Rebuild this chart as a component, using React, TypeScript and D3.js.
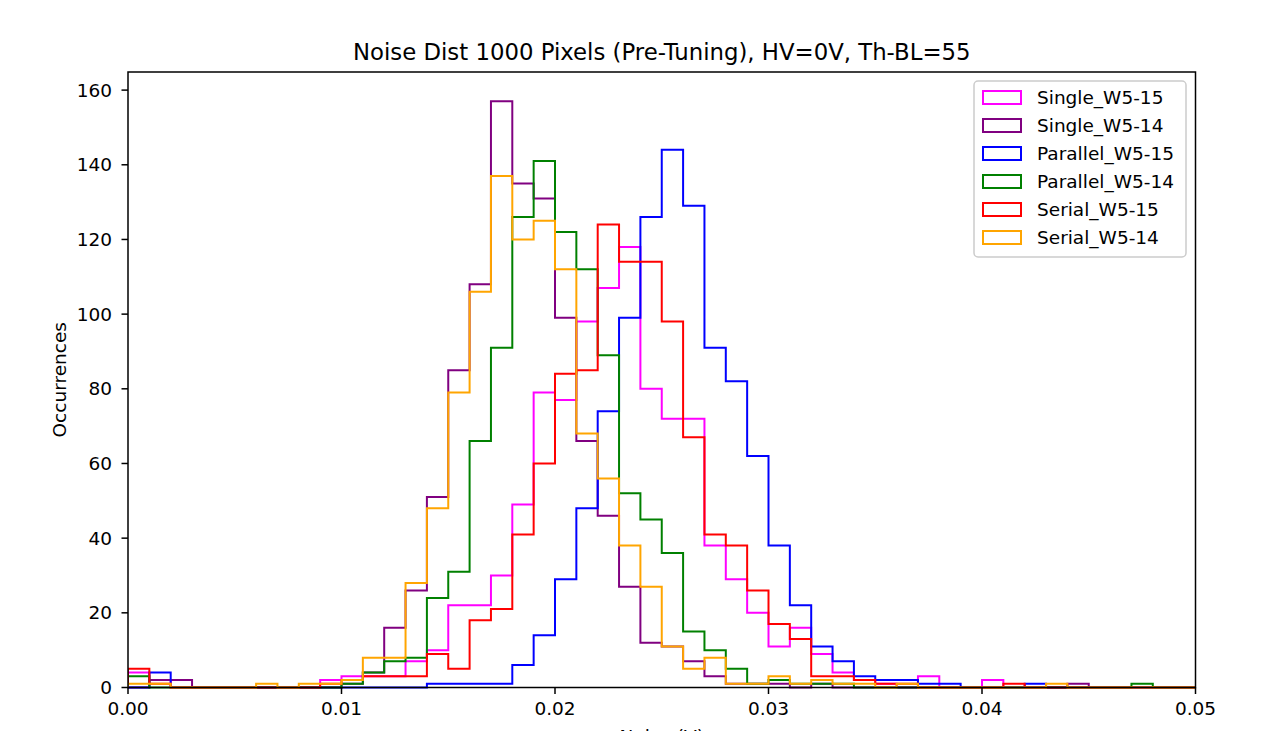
import React from "react";
import * as d3 from "d3";

const seriesNames = ["Single_W5-15", "Single_W5-14", "Parallel_W5-15", "Parallel_W5-14", "Serial_W5-15", "Serial_W5-14"];
const seriesColors = ["#ff00ff", "#800080", "#0000ff", "#008000", "#ff0000", "#ffa500"];

const binStart = 0;
const binWidth = 0.001;

const singleW515 = [4, 2, 0, 0, 0, 0, 0, 0, 0, 2, 3, 3, 3, 7, 10, 22, 22, 30, 49, 79, 77, 98, 107, 118, 80, 72, 72, 38, 29, 20, 11, 16, 9, 4, 2, 1, 0, 3, 0, 0, 2, 0, 0, 0, 0, 0, 0, 0, 0, 0];
const singleW514 = [0, 2, 2, 0, 0, 0, 0, 0, 0, 0, 1, 4, 16, 26, 51, 85, 108, 157, 135, 131, 99, 66, 46, 27, 12, 11, 7, 3, 1, 1, 1, 0, 1, 0, 0, 0, 0, 0, 0, 0, 0, 0, 0, 0, 1, 0, 0, 0, 0, 0];
const parallelW515 = [0, 4, 0, 0, 0, 0, 0, 0, 0, 0, 0, 0, 0, 0, 1, 1, 1, 1, 6, 14, 29, 48, 74, 99, 126, 144, 129, 91, 82, 62, 38, 22, 11, 7, 3, 2, 2, 1, 1, 0, 0, 0, 1, 0, 0, 0, 0, 0, 0, 0];
const parallelW514 = [3, 0, 0, 0, 0, 0, 0, 0, 0, 0, 1, 4, 7, 8, 24, 31, 66, 91, 126, 141, 122, 112, 89, 52, 45, 36, 15, 10, 5, 1, 2, 1, 1, 1, 0, 0, 0, 0, 0, 0, 0, 0, 0, 0, 0, 0, 0, 1, 0, 0];
const serialW515 = [5, 1, 0, 0, 0, 0, 0, 0, 0, 1, 2, 3, 3, 3, 9, 5, 18, 21, 41, 60, 84, 85, 124, 114, 114, 98, 67, 41, 38, 26, 17, 13, 3, 3, 2, 1, 1, 0, 0, 0, 0, 1, 0, 0, 0, 0, 0, 0, 0, 0];
const serialW514 = [1, 1, 0, 0, 0, 0, 1, 0, 1, 1, 2, 8, 8, 28, 48, 79, 106, 137, 120, 125, 112, 68, 56, 38, 27, 11, 5, 8, 1, 1, 3, 1, 2, 1, 1, 0, 1, 0, 0, 0, 0, 0, 0, 1, 0, 0, 0, 0, 0, 0];

const seriesValues = [singleW515, singleW514, parallelW515, parallelW514, serialW515, serialW514];

const xTicks = [0, 0.01, 0.02, 0.03, 0.04, 0.05];
const yTicks = [0, 20, 40, 60, 80, 100, 120, 140, 160];

const title = "Noise Dist 1000 Pixels (Pre-Tuning), HV=0V, Th-BL=55";
const xLabel = "Noise (V)";
const yLabel = "Occurrences";

const W = 1272;
const H = 731;
const L = 128;
const R = 1195.5;
const T = 72;
const B = 687.5;
const FONT = "'DejaVu Sans', sans-serif";
const FS = 18.5;

export default function App() {
  const x = d3.scaleLinear().domain([0, 0.05]).range([L, R]);
  const maxV = d3.max(seriesValues.flat()) as number;
  const y = d3.scaleLinear().domain([0, maxV * 1.05]).range([B, T]);

  const stepPath = (vals: number[]) => {
    const pts: [number, number][] = [];
    pts.push([x(binStart), y(0)]);
    vals.forEach((v, i) => {
      const x0 = binStart + i * binWidth;
      const x1 = binStart + (i + 1) * binWidth;
      pts.push([x(x0), y(v)]);
      pts.push([x(x1), y(v)]);
    });
    pts.push([x(binStart + vals.length * binWidth), y(0)]);
    return d3.line()(pts) as string;
  };

  const legX = 974;
  const legY = 81;
  const legW = 212;
  const legH = 176;

  return (
    <div style={{ position: "absolute", left: 0, top: 0 }}>
      <svg width={W} height={H} style={{ display: "block", background: "#fff" }} fontFamily={FONT}>
        <rect x={0} y={0} width={W} height={H} fill="#fff" />
        <defs>
          <clipPath id="axclip">
            <rect x={L} y={T - 2} width={R - L} height={B - T + 4} />
          </clipPath>
        </defs>
        <g clipPath="url(#axclip)">
          {seriesValues.map((vals, i) => (
            <path key={i} d={stepPath(vals)} fill="none" stroke={seriesColors[i]} strokeWidth={2} strokeLinejoin="miter" />
          ))}
        </g>
        <rect x={L} y={T} width={R - L} height={B - T} fill="none" stroke="#000" strokeWidth={1.5} />
        {yTicks.map((t) => (
          <g key={"y" + t}>
            <line x1={L - 6.5} x2={L} y1={y(t)} y2={y(t)} stroke="#000" strokeWidth={1.5} />
            <text x={L - 16} y={y(t)} textAnchor="end" dominantBaseline="central" fontSize={FS} fill="#000">
              {t}
            </text>
          </g>
        ))}
        {xTicks.map((t) => (
          <g key={"x" + t}>
            <line x1={x(t)} x2={x(t)} y1={B} y2={B + 6.5} stroke="#000" strokeWidth={1.5} />
            <text x={x(t)} y={715} textAnchor="middle" fontSize={FS} fill="#000">
              {t.toFixed(2)}
            </text>
          </g>
        ))}
        <text x={(L + R) / 2} y={60} textAnchor="middle" fontSize={22.8} fill="#000">
          {title}
        </text>
        <text x={(L + R) / 2} y={743} textAnchor="middle" fontSize={FS} fill="#000">
          {xLabel}
        </text>
        <text
          transform={`translate(${66},${(T + B) / 2}) rotate(-90)`}
          textAnchor="middle"
          fontSize={FS}
          fill="#000"
        >
          {yLabel}
        </text>
        <rect x={legX} y={legY} width={legW} height={legH} rx={4} ry={4} fill="#fff" fillOpacity={0.8} stroke="#cccccc" strokeWidth={1.5} />
        {seriesNames.map((n, i) => {
          const cy = 97.5 + i * 28;
          return (
            <g key={n}>
              <rect x={983} y={cy - 6.5} width={38} height={13} fill="none" stroke={seriesColors[i]} strokeWidth={2} />
              <text x={1037} y={cy} dominantBaseline="central" fontSize={FS} fill="#000">
                {n}
              </text>
            </g>
          );
        })}
      </svg>
    </div>
  );
}
